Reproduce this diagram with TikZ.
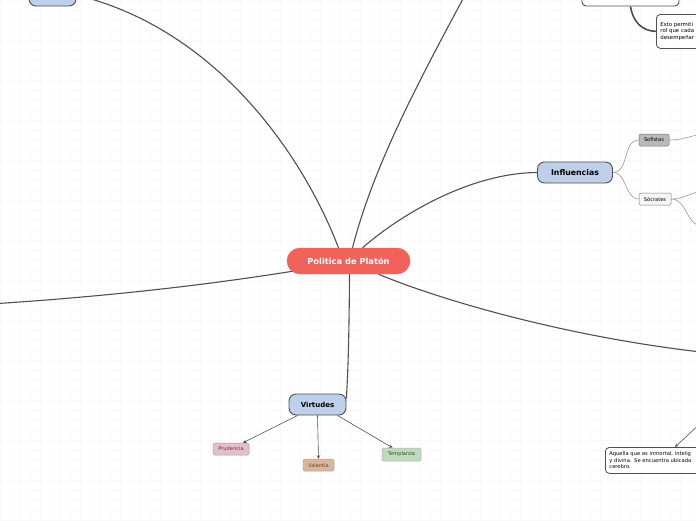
\documentclass[tikz,border=0pt]{standalone}
\usepackage{fontspec}
\setmainfont{DejaVu Sans}
\usetikzlibrary{positioning, arrows, backgrounds}
\definecolor{mainred}{RGB}{240,98,90}
\definecolor{topicblue}{RGB}{189,207,233}
\definecolor{linegray}{RGB}{80,80,80}
\definecolor{prudfill}{RGB}{227,191,200}
\definecolor{prudtext}{RGB}{122,42,58}
\definecolor{valefill}{RGB}{217,181,155}
\definecolor{valetext}{RGB}{107,74,48}
\definecolor{tempfill}{RGB}{191,217,191}
\definecolor{temptext}{RGB}{47,79,47}
\tikzset{
    >=stealth, % small sharp arrow heads
    every node/.style={inner sep=0pt}, % sizes are given by minimum width/height
    branch/.style={draw=linegray, line width=1.1pt}, % main connectors
}

\begin{document}
\begin{tikzpicture}[x=1pt, y=-1pt,
                    topic/.style={draw=linegray, line width=0.9pt, fill=topicblue, rounded corners=7pt, font=\bfseries\fontsize{7.8}{9}\selectfont},
                    tag/.style={draw, line width=0.5pt, rounded corners=1.5pt, minimum height=12pt, font=\fontsize{5.1}{6}\selectfont},
                    note/.style={draw=linegray, line width=0.8pt, fill=white, rounded corners=4pt, align=left, inner sep=4pt, font=\fontsize{5.4}{6.8}\selectfont},
                    thin/.style={draw=gray!80, line width=0.6pt},
                   ]
    \useasboundingbox (0,0) rectangle (696,520);
    \clip (0,0) rectangle (696,520);

    % nodes
    \node[draw=mainred, fill=mainred, rounded corners=13pt, minimum width=123pt, minimum height=26pt,
          text=white, font=\bfseries\fontsize{8.3}{9}\selectfont] (plato) at (348.5,261) {Politica de Platón};
    \node[topic, minimum width=47pt, minimum height=22pt] (nwbox) at (52.5,-5) {};
    \node[draw=linegray, line width=0.9pt, fill=white, rounded corners=4pt, minimum width=97pt, minimum height=22pt] (nebox) at (630.5,-5) {};
    \node[note, anchor=north west, text width=82pt, minimum height=34pt] (esto) at (656,14) {Esto permiti\\rol que cada\\desempeñar};
    \node[topic, minimum width=75pt, minimum height=21pt] (influ) at (575,172.5) {Influencias};
    \node[tag, fill=gray!55, draw=gray!90!black, minimum width=30pt] (sofi) at (654,140) {Sofistas};
    \node[tag, fill=gray!8, draw=gray, minimum width=32pt] (socr) at (655,199) {Sócrates};
    \node[topic, minimum width=57pt, minimum height=21pt, font=\bfseries\fontsize{7}{8}\selectfont] (virt) at (317.5,404.5) {Virtudes};
    \node[tag, fill=prudfill, draw=prudtext!50, text=prudtext, minimum width=36pt] (prud) at (231,449) {Prudencia};
    \node[tag, fill=valefill, draw=valetext!50, text=valetext, minimum width=31pt] (vale) at (318.5,465) {Valentía};
    \node[tag, fill=tempfill, draw=temptext!40, text=temptext, minimum width=39pt, minimum height=13pt] (temp) at (401.5,454.5) {Templanza};
    \node[note, anchor=north west, text width=102pt, minimum height=26pt, font=\fontsize{5.2}{6.5}\selectfont] (aquella) at (605,447) {Aquella que es inmortal, intelig\\y divina. Se encuentra ubicada\\cerebro.};

    % free ends outside the frame
    \coordinate (topend) at (472,-18);
    \coordinate (leftend) at (-10,304);
    \coordinate (rightend) at (710,353);
    \coordinate (sofiend) at (702,134);
    \coordinate (socrup) at (702,191);
    \coordinate (socrdown) at (702,226);
    \coordinate (almaup) at (703,421);

    \begin{scope}[on background layer]
        \fill[white] (0,0) rectangle (696,520);
        \draw[gray!5, line width=0.5pt] (0,0) grid[step=10pt] (696,520);
        \draw[branch] ([xshift=-10pt]plato.north) .. controls (305,160) and (220,30) .. (nwbox.east);
        \draw[branch] ([xshift=4pt]plato.north) .. controls (375,160) and (425,70) .. (topend);
        \draw[branch] ([xshift=14pt]plato.north) .. controls (400,215) and (470,173) .. (influ.west);
        \draw[branch] ([xshift=6pt,yshift=3pt]plato.south west) .. controls (200,286) and (100,297) .. (leftend);
        \draw[branch] ([xshift=30pt]plato.south) .. controls (440,300) and (570,338) .. (rightend);
        \draw[branch] ([xshift=1pt]plato.south) .. controls (349,360) and (347,385) .. ([yshift=-5pt]virt.north east);
        \draw[draw=linegray, line width=1.6pt] (nebox.south) .. controls (633,22) and (642,31) .. (esto.west);
        \draw[thin] (influ.east) to[out=0, in=180] (sofi.west);
        \draw[thin] (influ.east) to[out=0, in=180] (socr.west);
        \draw[thin] (sofi.east) to[out=0, in=190] (sofiend);
        \draw[thin] (socr.east) to[out=0, in=190] (socrup);
        \draw[thin] (socr.east) to[out=0, in=180] (socrdown);
    \end{scope}

    \draw[->, draw=linegray, line width=0.6pt] ([xshift=-20pt]virt.south) -- ([xshift=12pt]prud.north);
    \draw[->, draw=linegray, line width=0.6pt] (virt.south) -- (vale.north);
    \draw[->, draw=linegray, line width=0.6pt] ([xshift=20pt]virt.south) -- ([xshift=-9pt]temp.north);
    \draw[->, draw=linegray, line width=0.6pt] (almaup) -- ([xshift=70pt]aquella.north west);
\end{tikzpicture}
\end{document}
